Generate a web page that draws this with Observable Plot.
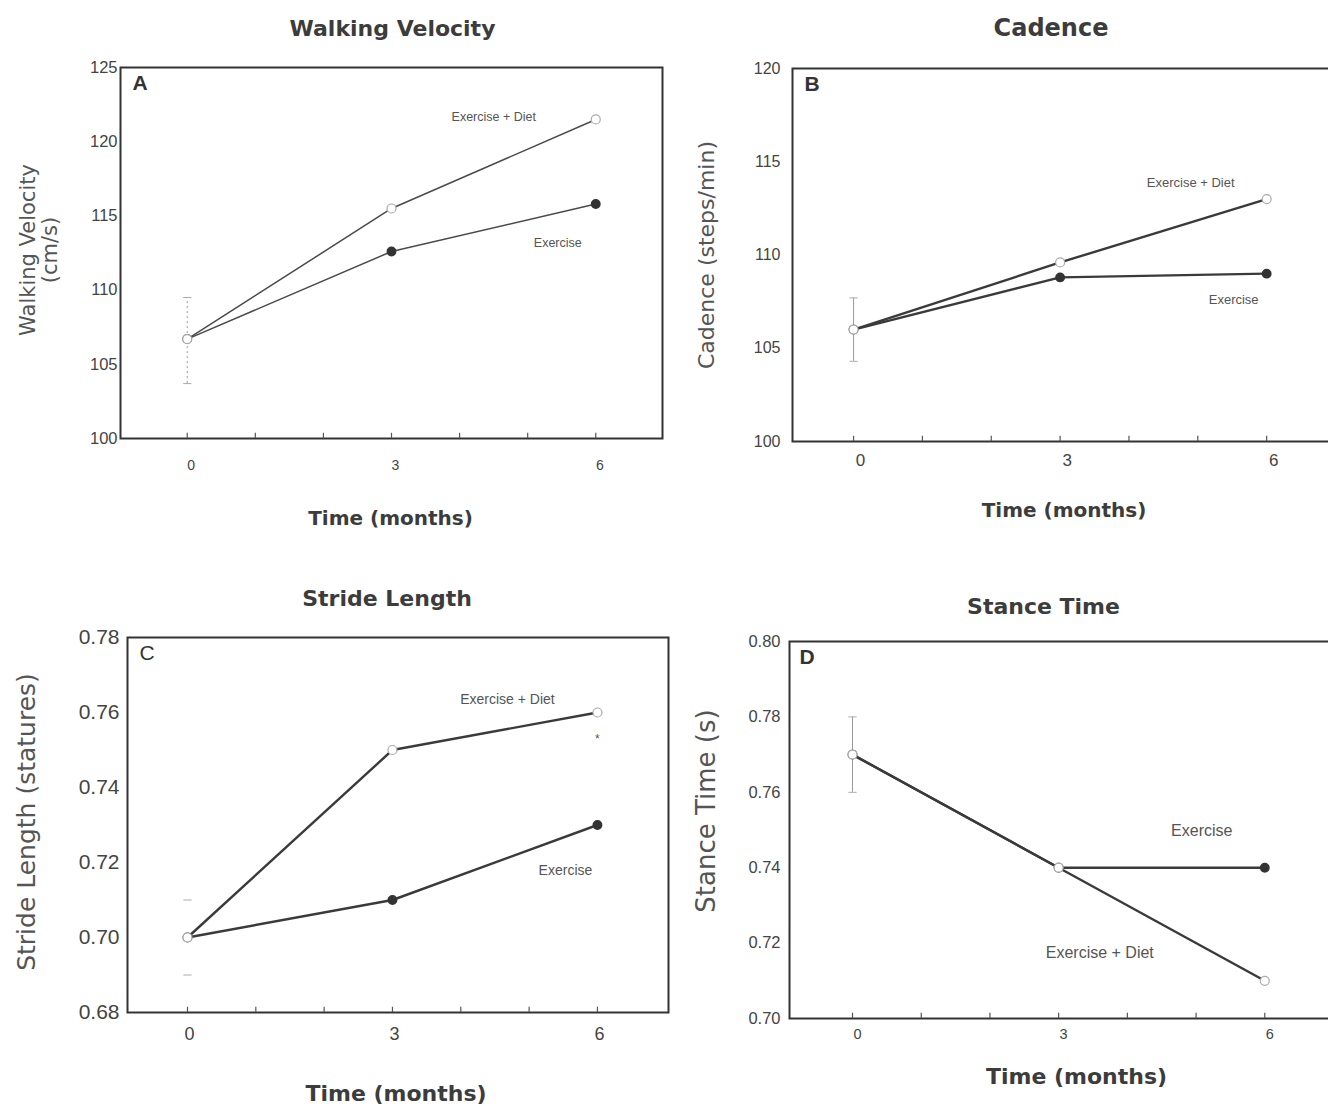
<!DOCTYPE html>
<html>
<head>
<meta charset="utf-8">
<script src="https://cdn.jsdelivr.net/npm/d3@7"></script>
<script src="https://cdn.jsdelivr.net/npm/@observablehq/plot@0.6"></script>
<style>
  html, body { margin: 0; padding: 0; background: #fff; overflow: hidden; }
  #wrap { position: relative; width: 1328px; height: 1106px; overflow: hidden; background: #fff; }
  .panel { position: absolute; }
  .panel svg { overflow: visible; max-width: none !important; }
</style>
</head>
<body>
<div id="wrap"></div>
<script>
// ---------- data ----------
const months = [0, 3, 6];
const minorMonths = [0, 1, 2, 3, 4, 5, 6];
const seriesNames = ["Exercise", "Exercise + Diet"];

const velocityExercise = [106.7, 112.6, 115.8];
const velocityExerciseDiet = [106.7, 115.5, 121.5];
const velocityError = [103.7, 109.5];
const velocityTicks = [100, 105, 110, 115, 120, 125];

const cadenceExercise = [106.0, 108.8, 109.0];
const cadenceExerciseDiet = [106.0, 109.6, 113.0];
const cadenceError = [104.3, 107.7];
const cadenceTicks = [100, 105, 110, 115, 120];

const strideExercise = [0.70, 0.71, 0.73];
const strideExerciseDiet = [0.70, 0.75, 0.76];
const strideError = [0.69, 0.71];
const strideTicks = [0.68, 0.70, 0.72, 0.74, 0.76, 0.78];

const stanceExercise = [0.77, 0.74, 0.74];
const stanceExerciseDiet = [0.77, 0.74, 0.71];
const stanceError = [0.76, 0.78];
const stanceTicks = [0.70, 0.72, 0.74, 0.76, 0.78, 0.80];

// ---------- drawing ----------
const NARROW = "'Liberation Sans Narrow', 'Liberation Sans', Arial, sans-serif";
const SANS = "'Liberation Sans', Arial, Helvetica, sans-serif";
const WIDE = "'DejaVu Sans', Verdana, sans-serif";

function panel(c) {
  const ex = months.map((m, i) => ({x: m, y: c.exercise[i], s: seriesNames[0]}));
  const ed = months.map((m, i) => ({x: m, y: c.exerciseDiet[i], s: seriesNames[1]}));
  const [y0, y1] = c.yDomain;
  const tickLen = (y1 - y0) * 0.014;
  const capW = 0.06;
  const err = [{x: 0, lo: c.error[0], hi: c.error[1]}];
  const marks = [
    Plot.frame({stroke: "#333", strokeWidth: 2}),
    Plot.ruleX(minorMonths, {x: d => d, y1: y0, y2: y0 + tickLen, stroke: "#555", strokeWidth: 1.2}),
    Plot.axisX({ticks: months, tickSize: 0, tickPadding: c.xPad, dx: c.xTickDx, fontSize: c.xTickFont, fontFamily: SANS, fill: "#444", label: null}),
    Plot.axisY({ticks: c.yTicks, tickSize: 0, tickPadding: c.yPad, fontSize: c.yTickFont, fontFamily: SANS, fill: "#444", tickFormat: c.yFormat, label: null}),
  ];
  if (c.errorStyle !== "caps") {
    marks.push(Plot.ruleX(err, {x: "x", y1: "lo", y2: "hi", stroke: "#999", strokeWidth: 1, strokeDasharray: c.errorStyle === "dotted" ? "2,3" : null}));
  }
  marks.push(
    Plot.link(err, {x1: d => d.x - capW, x2: d => d.x + capW, y1: "lo", y2: "lo", stroke: "#aaa", strokeWidth: 1}),
    Plot.link(err, {x1: d => d.x - capW, x2: d => d.x + capW, y1: "hi", y2: "hi", stroke: "#aaa", strokeWidth: 1}),
    Plot.line(ex, {x: "x", y: "y", stroke: c.lineColor, strokeWidth: c.lineW}),
    Plot.line(ed, {x: "x", y: "y", stroke: c.lineColor, strokeWidth: c.lineW}),
    Plot.dot(ex, {x: "x", y: "y", r: 4.2, fill: "#333", stroke: "#333"}),
    Plot.dot(ed, {x: "x", y: "y", r: 4.5, fill: "#fff", stroke: "#aaa", strokeWidth: 1.2}),
    // series labels anchored to the last point of each series
    Plot.text([ed[ed.length - 1]], {x: "x", y: "y", text: d => d.s, dx: c.edLab[0], dy: c.edLab[1], fontSize: c.labFont, fontFamily: c.labFamily, fill: "#555"}),
    Plot.text([ex[ex.length - 1]], {x: "x", y: "y", text: d => d.s, dx: c.exLab[0], dy: c.exLab[1], fontSize: c.labFont, fontFamily: c.labFamily, fill: "#555"}),
    // panel letter
    Plot.text([c.letter], {frameAnchor: "top-left", text: d => d, dx: c.letterPos[0], dy: c.letterPos[1], textAnchor: "start", lineAnchor: "top", fontSize: 21, fontWeight: c.letterBold ? "bold" : "normal", fontFamily: SANS, fill: "#333"}),
    // title
    Plot.text([c.title], {frameAnchor: "top", text: d => d, dx: c.titlePos[0], dy: c.titlePos[1], textAnchor: "middle", lineAnchor: "middle", fontSize: c.titleFont, fontWeight: "bold", fontFamily: WIDE, fill: "#3c3c3c"}),
    // x label
    Plot.text([c.xLabel], {frameAnchor: "bottom", text: d => d, dx: c.xLabPos[0], dy: c.xLabPos[1], textAnchor: "middle", lineAnchor: "middle", fontSize: c.xLabFont, fontWeight: "bold", fontFamily: WIDE, fill: "#3c3c3c"}),
    // y label
    Plot.text([c.yLabel], {frameAnchor: "left", text: d => d, dx: c.yLabPos[0], dy: c.yLabPos[1], rotate: -90, textAnchor: "middle", lineAnchor: "middle", lineHeight: 1.05, fontSize: c.yLabFont, fontFamily: WIDE, fill: "#555"})
  );
  if (c.star) {
    marks.push(Plot.text([ed[ed.length - 1]], {x: "x", y: "y", text: () => "*", dy: 27, fontSize: 12, fill: "#555"}));
  }
  const chart = Plot.plot({
    width: c.width, height: c.height,
    marginLeft: c.m[0], marginTop: c.m[1], marginRight: c.m[2], marginBottom: c.m[3],
    x: {domain: c.xDomain},
    y: {domain: c.yDomain},
    style: {background: "transparent", fontFamily: SANS, color: "#333", overflow: "visible", maxWidth: "none"},
    marks
  });
  const div = document.createElement("div");
  div.className = "panel";
  div.style.left = c.left + "px";
  div.style.top = c.top + "px";
  div.style.width = c.width + "px";
  div.style.height = c.height + "px";
  div.appendChild(chart);
  document.getElementById("wrap").appendChild(div);
}

panel({
  left: 0, top: 0, width: 680, height: 540, m: [120, 67, 18, 102],
  xDomain: [-0.98, 6.98], yDomain: [100, 125], yTicks: velocityTicks, yFormat: d3.format("d"),
  exercise: velocityExercise, exerciseDiet: velocityExerciseDiet, error: velocityError, errorStyle: "dotted",
  lineW: 1.5, lineColor: "#4a4a4a", yTickFont: 16.5, xTickFont: 14, xPad: 22, xTickDx: 4, yPad: 3,
  labFont: 12.5, labFamily: NARROW, edLab: [-102, -2], exLab: [-38, 39],
  letter: "A", letterBold: true, letterPos: [12, 8],
  title: "Walking Velocity", titlePos: [1, -39], titleFont: 22,
  xLabel: "Time (months)", xLabPos: [-1, 80], xLabFont: 20,
  yLabel: "Walking Velocity\n(cm/s)", yLabPos: [-82, -3], yLabFont: 21
});

panel({
  left: 680, top: 0, width: 680, height: 540, m: [112, 68, 25, 99],
  xDomain: [-0.887, 7], yDomain: [100, 120], yTicks: cadenceTicks, yFormat: d3.format("d"),
  exercise: cadenceExercise, exerciseDiet: cadenceExerciseDiet, error: cadenceError, errorStyle: "solid",
  lineW: 2.4, lineColor: "#3a3a3a", yTickFont: 16, xTickFont: 17, xPad: 12, xTickDx: 7, yPad: 12,
  labFont: 13, labFamily: NARROW, edLab: [-76, -16], exLab: [-33, 26],
  letter: "B", letterBold: true, letterPos: [12, 8],
  title: "Cadence", titlePos: [-13, -40], titleFont: 24,
  xLabel: "Time (months)", xLabPos: [0, 69], xLabFont: 20,
  yLabel: "Cadence (steps/min)", yLabPos: [-86, 0], yLabFont: 22
});

panel({
  left: 0, top: 560, width: 680, height: 546, m: [127, 77, 12, 94],
  xDomain: [-0.878, 7.04], yDomain: [0.68, 0.78], yTicks: strideTicks, yFormat: d3.format(".2f"),
  exercise: strideExercise, exerciseDiet: strideExerciseDiet, error: strideError, errorStyle: "caps",
  lineW: 2.4, lineColor: "#3a3a3a", yTickFont: 21, xTickFont: 18, xPad: 15, xTickDx: 2, yPad: 8,
  labFont: 14, labFamily: NARROW, edLab: [-90, -13], exLab: [-32, 46],
  letter: "C", letterBold: false, letterPos: [12, 8],
  title: "Stride Length", titlePos: [-11, -39], titleFont: 22,
  xLabel: "Time (months)", xLabPos: [-2, 81], xLabFont: 22,
  yLabel: "Stride Length (statures)", yLabPos: [-101, -3], yLabFont: 25,
  star: true
});

panel({
  left: 680, top: 560, width: 680, height: 546, m: [109, 81, 27, 88],
  xDomain: [-0.917, 7], yDomain: [0.70, 0.80], yTicks: stanceTicks, yFormat: d3.format(".2f"),
  exercise: stanceExercise, exerciseDiet: stanceExerciseDiet, error: stanceError, errorStyle: "solid",
  lineW: 2.4, lineColor: "#3a3a3a", yTickFont: 16.5, xTickFont: 14.5, xPad: 10, xTickDx: 5, yPad: 9,
  labFont: 16, labFamily: SANS, edLab: [-165, -28], exLab: [-63, -37],
  letter: "D", letterBold: true, letterPos: [10, 8],
  title: "Stance Time", titlePos: [-18, -35], titleFont: 22,
  xLabel: "Time (months)", xLabPos: [15, 58], xLabFont: 22,
  yLabel: "Stance Time (s)", yLabPos: [-83, -19], yLabFont: 26
});
</script>
</body>
</html>
